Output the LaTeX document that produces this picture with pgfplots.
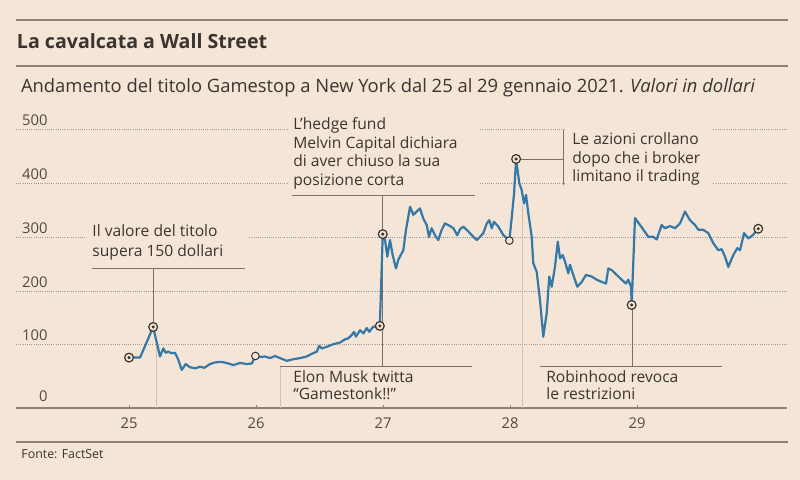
\documentclass[border=0pt]{standalone}
\usepackage{fontspec}
\setmainfont{Open Sans}
\usepackage{pgfplots}
\pgfplotsset{compat=1.18}
\usepackage{pgfplotstable}
\definecolor{bg}{RGB}{244,229,215}
\definecolor{txt}{RGB}{58,52,48}
\definecolor{tickc}{RGB}{80,73,68}
\definecolor{rulec}{RGB}{140,130,121}
\definecolor{gridc}{RGB}{160,150,140}
\definecolor{lead}{RGB}{120,112,105}
\definecolor{faint}{RGB}{205,192,180}
\definecolor{gme}{RGB}{52,120,168}
\tikzset{ann/.style={anchor=base west, inner sep=0pt, font=\fontsize{7.8}{9}\selectfont, text=txt}}

\pgfplotstableread{
d v
25.000 76
25.087 76
25.190 133
25.244 78
25.270 93
25.289 85
25.309 87
25.336 84
25.362 85
25.388 72
25.415 53
25.446 64
25.480 58
25.520 56
25.559 59
25.593 57
25.638 64
25.677 67
25.730 68
25.782 65
25.822 62
25.874 66
25.927 64
25.967 65
25.995 79
26.018 77
26.071 78
26.110 75
26.150 79
26.189 75
26.242 70
26.294 73
26.346 75
26.399 78
26.439 83
26.478 87
26.498 98
26.517 93
26.557 96
26.609 101
26.661 104
26.701 110
26.727 112
26.754 118
26.772 124
26.787 115
26.819 127
26.845 121
26.872 131
26.892 124
26.924 134
26.950 132
26.975 135
26.998 306
27.016 295
27.034 264
27.055 295
27.076 267
27.102 242
27.120 258
27.160 276
27.181 314
27.213 357
27.239 342
27.265 348
27.291 354
27.317 335
27.344 323
27.362 301
27.383 317
27.409 304
27.435 295
27.462 314
27.488 326
27.528 321
27.554 317
27.585 304
27.606 315
27.632 320
27.672 311
27.711 301
27.738 295
27.764 301
27.790 308
27.817 326
27.837 332
27.856 317
27.874 329
27.908 320
27.948 304
27.995 294
28.014 338
28.032 382
28.048 446
28.073 401
28.092 388
28.110 363
28.126 379
28.144 345
28.171 301
28.183 252
28.210 236
28.236 183
28.262 115
28.289 159
28.309 227
28.328 208
28.354 245
28.376 292
28.394 261
28.415 267
28.433 255
28.459 233
28.472 249
28.498 230
28.530 208
28.565 217
28.598 230
28.643 227
28.683 221
28.722 217
28.756 214
28.774 242
28.801 239
28.840 230
28.880 221
28.913 214
28.931 221
28.953 208
28.958 174
28.984 336
29.024 323
29.089 301
29.128 301
29.155 296
29.194 323
29.220 317
29.260 321
29.299 317
29.339 326
29.378 348
29.417 332
29.457 323
29.483 314
29.522 314
29.561 308
29.601 289
29.640 276
29.667 278
29.693 264
29.719 245
29.758 267
29.790 280
29.811 276
29.843 308
29.876 298
29.911 304
29.955 316
}\gmedata

\pgfplotstableread{
d v
25.000 76
25.190 133
26.975 135
26.998 306
28.048 446
28.958 174
29.955 316
}\markdot

\pgfplotstableread{
d v
25.995 79
27.995 294
}\markhollow

\begin{document}
\begin{tikzpicture}
\useasboundingbox (0,0) rectangle (400pt,240pt);
\fill[bg] (0,0) rectangle (400pt,240pt);
\draw[rulec, line width=0.8pt] (8pt,230pt) -- (394pt,230pt);
\node[anchor=base west, inner sep=0pt, font=\fontsize{9.8}{12}\selectfont\bfseries, text=txt] at (8.3pt,215.8pt) {La cavalcata a Wall Street};
\draw[rulec, line width=0.8pt] (8pt,207pt) -- (394pt,207pt);
\node[anchor=base west, inner sep=0pt, font=\fontsize{9.2}{11}\selectfont, text=txt] at (10.3pt,193.5pt) {Andamento del titolo Gamestop a New York dal 25 al 29 gennaio 2021. \textit{Valori in dollari}};
\draw[rulec, line width=0.7pt] (8pt,19pt) -- (394pt,19pt);
\node[anchor=base west, inner sep=0pt, font=\fontsize{6.2}{7}\selectfont, text=txt] at (10.5pt,10.5pt) {Fonte: FactSet};

\begin{axis}[
  at={(8pt,36pt)}, anchor=south west,
  scale only axis, width=385.5pt, height=139pt,
  xmin=24.110, xmax=30.181, ymin=-17.9, ymax=500,
  axis x line*=bottom, axis y line*=left,
  y axis line style={draw=none},
  x axis line style={rulec, line width=0.8pt, -},
  xtick={25,26,27,28,29}, tick align=inside, major tick length=1.5pt,
  x tick style={rulec, line width=0.5pt},
  ytick={100,200,300,400,500}, y tick style={draw=none},
  extra y ticks={-17.9}, extra y tick labels={0},
  extra y tick style={grid=none, yticklabel style={yshift=1.2pt}},
  ymajorgrids, grid style={gridc, line width=0.5pt, dash pattern=on 0.5pt off 0.6pt},
  tick label style={font=\fontsize{7.4}{8}\selectfont, text=tickc},
  yticklabel style={anchor=base east, inner sep=0pt, xshift=16pt, yshift=2pt},
  xticklabel style={anchor=north, inner sep=0pt, yshift=-4.5pt},
  /pgf/number format/assume math mode=true,
  clip=false,
]
% gridline gaps behind annotation texts
\fill[bg] (axis cs:24.654,254.1) rectangle (axis cs:25.937,328.6);
\fill[bg] (axis cs:26.252,384.5) rectangle (axis cs:27.764,537.4);
\fill[bg] (axis cs:28.433,384.5) rectangle (axis cs:29.598,527.8);
% faint verticals
\draw[faint, line width=0.5pt] (axis cs:25.220,99.5) -- (axis cs:25.220,-17.9);
\draw[faint, line width=0.5pt] (axis cs:26.189,60.4) -- (axis cs:26.189,-17.9);
\draw[faint, line width=0.5pt] (axis cs:28.102,360) -- (axis cs:28.102,-17.9);
% annotation 1
\node[ann] at (axis cs:24.709,300.7) {Il valore del titolo};
\node[ann] at (axis cs:24.709,265.2) {supera 150 dollari};
\draw[lead, line width=0.45pt] (axis cs:24.709,242.9) -- (axis cs:25.913,242.9);
\draw[lead, line width=0.45pt] (axis cs:25.189,242.9) -- (axis cs:25.189,133);
% annotation 2
\node[ann] at (axis cs:26.291,500.2) {L’hedge fund};
\node[ann] at (axis cs:26.291,465.7) {Melvin Capital dichiara};
\node[ann] at (axis cs:26.291,431.1) {di aver chiuso la sua};
\node[ann] at (axis cs:26.291,396.6) {posizione corta};
\draw[lead, line width=0.45pt] (axis cs:26.283,378.9) -- (axis cs:27.724,378.9);
\draw[lead, line width=0.45pt] (axis cs:26.992,378.9) -- (axis cs:26.992,60.4);
% annotation Elon
\draw[lead, line width=0.45pt] (axis cs:26.189,60.4) -- (axis cs:27.701,60.4);
\node[ann] at (axis cs:26.291,29.2) {Elon Musk twitta};
\node[ann] at (axis cs:26.291,-3.0) {“Gamestonk!!”};
% annotation Le azioni
\draw[lead, line width=0.45pt] (axis cs:28.417,500) -- (axis cs:28.417,397.6);
\draw[lead, line width=0.45pt] (axis cs:28.048,446) -- (axis cs:28.417,446);
\node[ann] at (axis cs:28.488,472.1) {Le azioni crollano};
\node[ann] at (axis cs:28.488,438.0) {dopo che i broker};
\node[ann] at (axis cs:28.488,403.7) {limitano il trading};
% annotation Robinhood
\draw[lead, line width=0.45pt] (axis cs:28.236,60.4) -- (axis cs:29.669,60.4);
\draw[lead, line width=0.45pt] (axis cs:28.961,174) -- (axis cs:28.961,60.4);
\node[ann] at (axis cs:28.283,29.2) {Robinhood revoca};
\node[ann] at (axis cs:28.283,-3.0) {le restrizioni};
% data
\addplot[gme, line width=1.1pt, line join=round, mark=none] table[x=d,y=v]{\gmedata};
\addplot[only marks, mark=*, mark size=2.2pt, mark options={fill=bg, draw=txt, line width=0.6pt}] table[x=d,y=v]{\markdot};
\addplot[only marks, mark=*, mark size=0.55pt, mark options={fill=txt, draw=txt}] table[x=d,y=v]{\markdot};
\addplot[only marks, mark=*, mark size=1.9pt, mark options={fill=bg, draw=txt, line width=0.5pt}] table[x=d,y=v]{\markhollow};
\end{axis}
\end{tikzpicture}
\end{document}
